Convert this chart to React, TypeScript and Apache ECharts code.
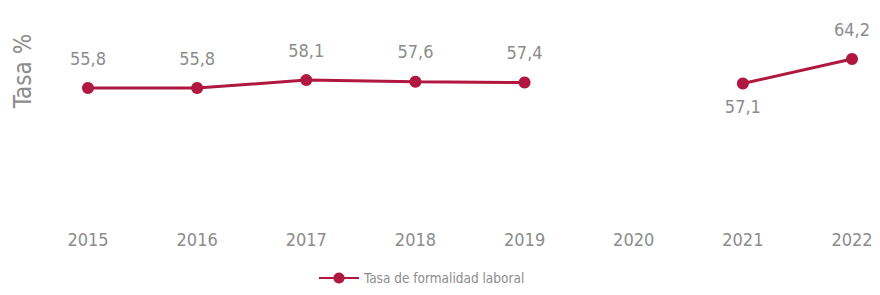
import React, { useEffect, useRef } from "react";
import * as echarts from "echarts";

const years = ["2015", "2016", "2017", "2018", "2019", "2020", "2021", "2022"];
const formalidad: (number | null)[] = [55.8, 55.8, 58.1, 57.6, 57.4, null, 57.1, 64.2];
const labelBelow = ["2021"];

const FONT = "'DejaVu Sans Condensed', 'DejaVu Sans', sans-serif";
const RED = "#b0183f";
const GREY = "#8c8c8c";

export default function App() {
  const ref = useRef<HTMLDivElement>(null);
  useEffect(() => {
    if (!ref.current) return;
    const chart = echarts.init(ref.current, undefined, { renderer: "svg" });
    chart.setOption({
      animation: false,
      textStyle: { fontFamily: FONT },
      grid: { left: 88, right: 28, top: 39, bottom: 83.4 },
      xAxis: {
        type: "category",
        data: years,
        boundaryGap: false,
        axisLine: { show: false },
        axisTick: { show: false },
        splitLine: { show: false },
        axisLabel: { color: GREY, fontSize: 18, margin: 19, fontFamily: FONT },
      },
      yAxis: {
        type: "value",
        min: 20,
        max: 70,
        show: false,
      },
      legend: {
        bottom: 5,
        left: 313,
        itemWidth: 40,
        itemHeight: 14,
        itemGap: 3,
        textStyle: { color: GREY, fontSize: 13.5, fontFamily: FONT },
        data: ["Tasa de formalidad laboral"],
      },
      graphic: [
        {
          type: "text",
          x: 23,
          y: 71,
          rotation: Math.PI / 2,
          style: {
            text: "Tasa %",
            fill: GREY,
            font: `24px ${FONT}`,
            align: "center",
            verticalAlign: "middle",
          },
        },
      ],
      series: [
        {
          name: "Tasa de formalidad laboral",
          type: "line",
          data: formalidad.map((v, i) => {
            const below = labelBelow.includes(years[i]);
            return {
              value: v,
              label: { position: below ? "bottom" : "top", distance: below ? 8 : 15 },
            };
          }),
          connectNulls: false,
          symbol: "circle",
          symbolSize: 12,
          lineStyle: { color: RED, width: 3 },
          itemStyle: { color: RED },
          label: {
            show: true,
            color: GREY,
            fontSize: 18,
            fontFamily: FONT,
            formatter: (p: any) => String(p.value).replace(".", ","),
          },
        },
      ],
    });
    return () => chart.dispose();
  }, []);
  return (
    <div
      ref={ref}
      style={{ position: "absolute", left: 0, top: 0, width: 880, height: 295 }}
    />
  );
}
